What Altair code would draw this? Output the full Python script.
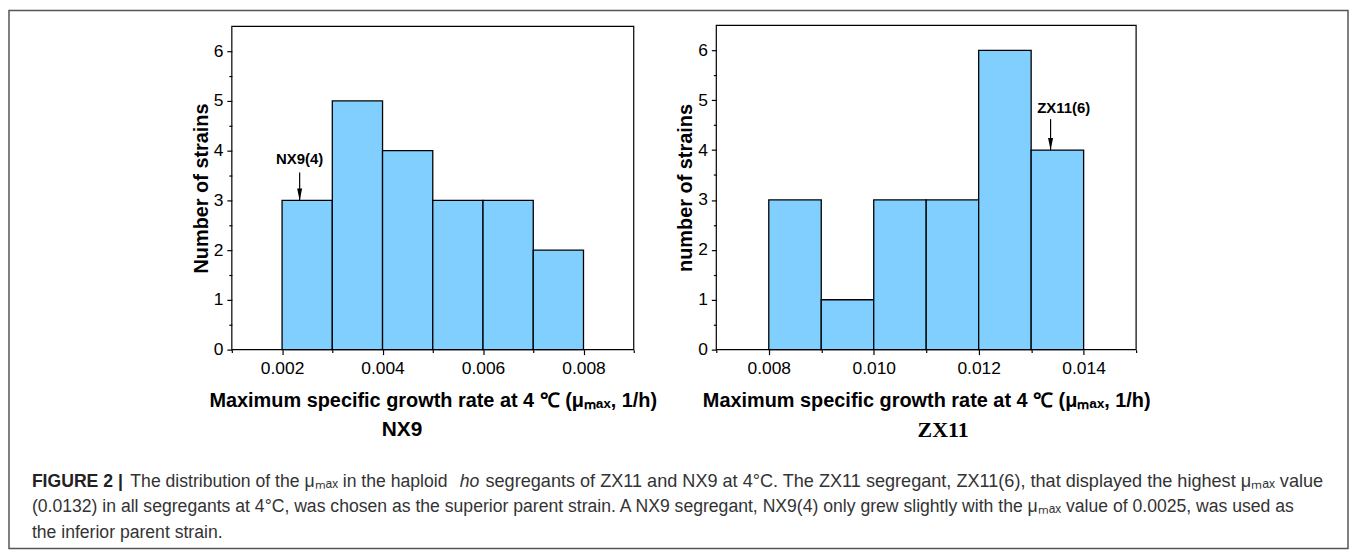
import altair as alt
import pandas as pd

# ---------------- data ----------------
nx9_bin_start = [0.002, 0.003, 0.004, 0.005, 0.006, 0.007]
nx9_bin_end = [0.003, 0.004, 0.005, 0.006, 0.007, 0.008]
nx9_counts = [3, 5, 4, 3, 3, 2]

zx11_bin_start = [0.008, 0.009, 0.010, 0.011, 0.012, 0.013]
zx11_bin_end = [0.009, 0.010, 0.011, 0.012, 0.013, 0.014]
zx11_counts = [3, 1, 3, 3, 6, 4]

nx9_x_domain = [0.001, 0.009]
zx11_x_domain = [0.007, 0.015]
y_domain = [0, 6.5]
nx9_x_major = [0.002, 0.004, 0.006, 0.008]
nx9_x_minor = [0.001, 0.003, 0.005, 0.007, 0.009]
zx11_x_major = [0.008, 0.010, 0.012, 0.014]
zx11_x_minor = [0.007, 0.009, 0.011, 0.013, 0.015]
y_major = [0, 1, 2, 3, 4, 5, 6]
y_minor = [0.5, 1.5, 2.5, 3.5, 4.5, 5.5]

# annotations: label, label x, label y, arrow x, arrow start y, arrow tip y
nx9_note = ["NX9(4)", 0.00235, 3.84, 0.00235, 3.56, 3.0]
zx11_note = ["ZX11(6)", 0.01362, 4.84, 0.01337, 4.62, 4.0]

x_title = "Maximum specific growth rate at 4 \u2103 (\u03bc\u2098\u2090\u2093, 1/h)"

caption_bold = "FIGURE 2 |"
caption_l1a = "The distribution of the \u03bc\u2098\u2090\u2093 in the haploid"
caption_l1b = "ho"
caption_l1c = ("segregants of ZX11 and NX9 at 4\u00b0C. The ZX11 segregant, ZX11(6), "
               "that displayed the highest \u03bc\u2098\u2090\u2093 value")
caption_l2 = ("(0.0132) in all segregants at 4\u00b0C, was chosen as the superior parent strain. "
              "A NX9 segregant, NX9(4) only grew slightly with the \u03bc\u2098\u2090\u2093 value "
              "of 0.0025, was used as")
caption_l3 = "the inferior parent strain."

SANS = "Liberation Sans, Arial, Helvetica, sans-serif"
SERIF = "Liberation Serif, Times New Roman, serif"
BAR = "#80CFFF"

W, H = 1346, 541


def axes_pair(xvals, yvals, tick, labels, xtitle, ytitle, x_off, y_off):
    common = dict(grid=False, tickColor="black", tickWidth=1.2, domain=False,
                  labelFont=SANS, labelFontSize=17.5, labelColor="black",
                  labelFlush=False, labelOverlap=False, tickSize=tick, labels=labels,
                  titleFont=SANS, titleFontWeight="bold", titleColor="black", titleFontSize=20)
    xaxis = alt.Axis(orient="bottom", offset=x_off, values=xvals, format=".3f",
                     title=xtitle, titlePadding=14, labelPadding=5, **common)
    yaxis = alt.Axis(orient="left", offset=y_off, values=yvals, format="d",
                     title=ytitle, titlePadding=2, labelPadding=4, **common)
    return xaxis, yaxis


def panel(starts, ends, counts, xdom, xrng, yrng, xmaj, xmin, ytitle, note, y_left):
    xs = alt.Scale(domain=xdom, range=xrng, nice=False, zero=False)
    ys = alt.Scale(domain=y_domain, range=yrng, nice=False, zero=False)
    x_off = -(H - yrng[0])
    y_off = -y_left
    xa, ya = axes_pair(xmaj, y_major, 5, True, x_title, ytitle, x_off, y_off)
    xm, ym = axes_pair(xmin, y_minor, 3, False, None, None, x_off, y_off)

    df = pd.DataFrame({"x0": starts, "x1": ends, "n": counts})
    bars = alt.Chart(df).mark_rect(fill=BAR, stroke="black", strokeWidth=1.3).encode(
        x=alt.X("x0:Q", scale=xs, axis=None),
        x2="x1:Q",
        y=alt.Y("n:Q", scale=ys, axis=None),
        y2=alt.datum(0),
    )
    fdf = pd.DataFrame({"a": [xdom[0]], "b": [xdom[1]], "c": [y_domain[0]], "d": [y_domain[1]]})
    frame = alt.Chart(fdf).mark_rect(fillOpacity=0, stroke="black", strokeWidth=1.2).encode(
        x=alt.X("a:Q", scale=xs, axis=None), x2="b:Q",
        y=alt.Y("c:Q", scale=ys, axis=None), y2="d:Q",
    )
    major = alt.Chart(fdf).mark_rect(opacity=0).encode(
        x=alt.X("a:Q", scale=xs, axis=xa), x2="b:Q",
        y=alt.Y("c:Q", scale=ys, axis=ya), y2="d:Q",
    )
    minor = alt.Chart(fdf).mark_rect(opacity=0).encode(
        x=alt.X("a:Q", scale=xs, axis=xm), x2="b:Q",
        y=alt.Y("c:Q", scale=ys, axis=ym), y2="d:Q",
    )
    ndf = pd.DataFrame({"t": [note[0]], "tx": [note[1]], "ty": [note[2]],
                        "ax": [note[3]], "ay0": [note[4]], "ay1": [note[5]]})
    label = alt.Chart(ndf).mark_text(font=SANS, fontSize=15, fontWeight="bold",
                                     color="black", baseline="middle", align="center").encode(
        x=alt.X("tx:Q", scale=xs, axis=None),
        y=alt.Y("ty:Q", scale=ys, axis=None),
        text="t:N",
    )
    line = alt.Chart(ndf).mark_rule(color="black", strokeWidth=1.2).encode(
        x=alt.X("ax:Q", scale=xs, axis=None),
        y=alt.Y("ay0:Q", scale=ys, axis=None),
        y2="ay1:Q",
    )
    head = alt.Chart(ndf).mark_point(shape="M-0.42,-2L0.42,-2L0,0Z", filled=True,
                                     size=144, color="black", opacity=1).encode(
        x=alt.X("ax:Q", scale=xs, axis=None),
        y=alt.Y("ay1:Q", scale=ys, axis=None),
    )
    return [alt.layer(bars, frame, line, head, label), major, minor]


left = panel(nx9_bin_start, nx9_bin_end, nx9_counts, nx9_x_domain, [224, 628], [341, 16],
             nx9_x_major, nx9_x_minor, "Number of strains", nx9_note, 224)
right = panel(zx11_bin_start, zx11_bin_end, zx11_counts, zx11_x_domain, [711, 1133], [341, 15],
              zx11_x_major, zx11_x_minor, "number of strains", zx11_note, 711)

one = alt.Data(values=[{}])


def txt(s, x, y, **kw):
    return alt.Chart(one).mark_text(text=s, baseline="middle", **kw).encode(
        x=alt.value(x), y=alt.value(y))


CAP = 17.7
cap_kw = dict(font=SANS, fontSize=CAP, color="#333333", align="left")
texts = [
    txt("NX9", 395, 422, font=SANS, fontSize=21, fontWeight="bold", color="black", align="center"),
    txt("ZX11", 939, 422, font=SERIF, fontSize=22, fontWeight="bold", color="black", align="center"),
    txt(caption_bold, 23, 474, font=SANS, fontSize=CAP, fontWeight="bold", color="#222222", align="left"),
    txt(caption_l1a, 122, 474, **cap_kw),
    txt(caption_l1b, 453, 474, font=SANS, fontSize=CAP, fontStyle="italic", color="#333333", align="left"),
    txt(caption_l1c, 479, 474, font=SANS, fontSize=18.2, color="#333333", align="left"),
    txt(caption_l2, 23, 499.5, **cap_kw),
    txt(caption_l3, 23, 525, **cap_kw),
]

chart = alt.layer(*left, *right, *texts).resolve_scale(
    x="independent", y="independent"
).properties(
    width=W, height=H, padding={"left": 1, "top": 1, "right": 1, "bottom": 1},
    autosize=alt.AutoSizeParams(type="none"), background="white",
).configure_view(stroke="#555555", strokeWidth=1.5)

chart.save("out.html", embed_options={"renderer": "svg", "actions": False})
